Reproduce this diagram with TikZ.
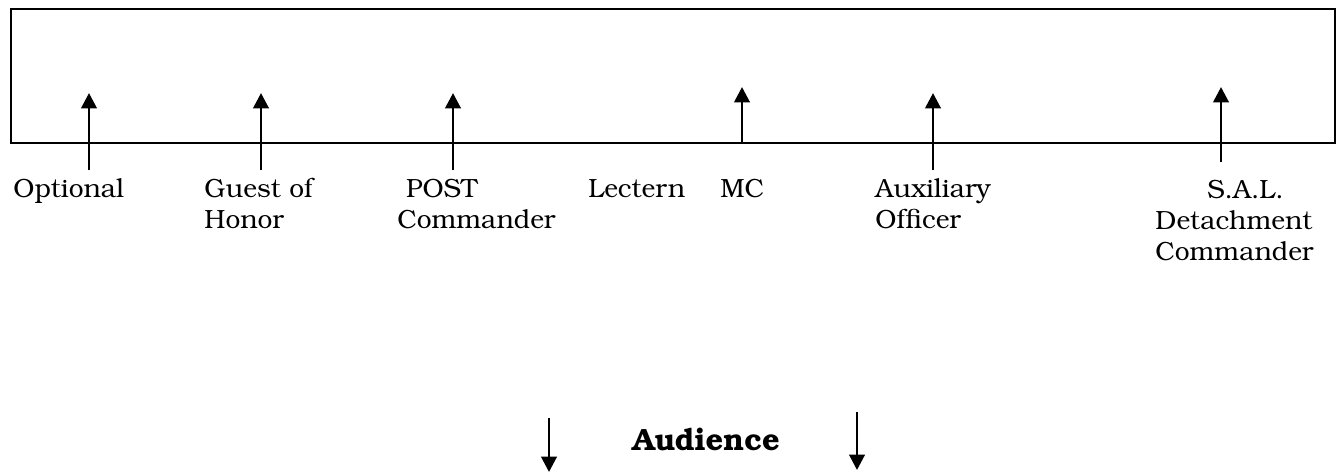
\documentclass[tikz,border=0pt]{standalone}
\usepackage[T1]{fontenc}
\usepackage{bookman}
\usetikzlibrary{arrows.meta}

\tikzset{
  seat/.style={font=\fontsize{12}{14.1}\selectfont, inner sep=0pt, anchor=base west, align=left},
  facing/.style={line width=1.3pt, -{Triangle[width=7pt,length=7pt]}},
}

\begin{document}
\begin{tikzpicture}[x=0.016cm,y=-0.016cm]
  \useasboundingbox (0,0) rectangle (1340,473);

  % Head table
  \draw[line width=1.3pt] (11,9) rectangle (1335,143);

  % Seats at the table
  \coordinate (optfoot) at (89,170);   \coordinate (opttip) at (89,93);
  \coordinate (guestfoot) at (261,170); \coordinate (guesttip) at (261,93);
  \coordinate (postfoot) at (453,170);  \coordinate (posttip) at (453,93);
  \coordinate (mcfoot) at (742,143);    \coordinate (mctip) at (742,87);
  \coordinate (auxfoot) at (933,170);   \coordinate (auxtip) at (933,93);
  \coordinate (salfoot) at (1221,162);  \coordinate (saltip) at (1221,87);

  \draw[facing] (optfoot) -- (opttip);
  \draw[facing] (guestfoot) -- (guesttip);
  \draw[facing] (postfoot) -- (posttip);
  \draw[facing] (mcfoot) -- (mctip);
  \draw[facing] (auxfoot) -- (auxtip);
  \draw[facing] (salfoot) -- (saltip);

  % Labels (base = last line)
  \node[seat] (optional) at (13,197) {Optional};
  \node[seat] (guest) at (204,228) {Guest of\\Honor};
  \node[seat] (post) at (397,228) {\hspace*{4pt}POST\\Commander};
  \node[seat] (lectern) at (588,197) {Lectern};
  \node[seat] (mc) at (720,197) {MC};
  \node[seat] (aux) at (875,228) {Auxiliary\\Officer};
  \node[seat] (sal) at (1155,260) {\hspace*{0.83cm}S.A.L.\\Detachment\\Commander};

  % Audience
  \coordinate (leftfoot) at (549,418);  \coordinate (lefttip) at (549,472);
  \coordinate (rightfoot) at (857,412); \coordinate (righttip) at (857,470);
  \draw[facing] (leftfoot) -- (lefttip);
  \draw[facing] (rightfoot) -- (righttip);
  \node[seat,font=\fontsize{14}{16}\selectfont\bfseries] (audience) at (632,450) {Audience};
\end{tikzpicture}
\end{document}
